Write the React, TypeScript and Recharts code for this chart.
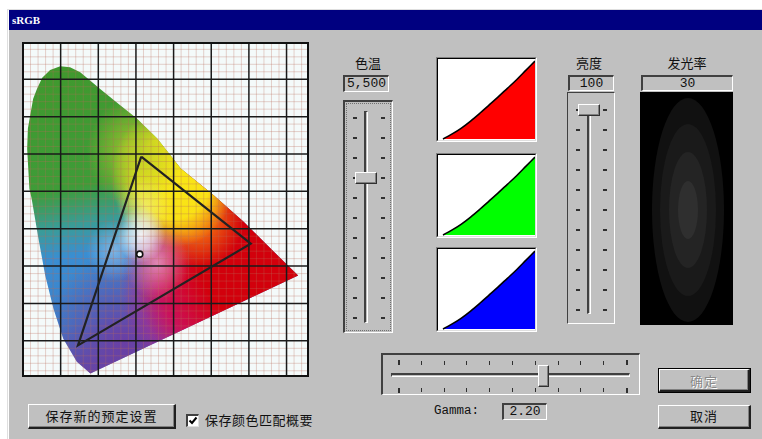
import React from "react";
import { ScatterChart, Scatter, XAxis, YAxis, ReferenceLine, AreaChart, Area } from "recharts";

// spectral locus outline (diagram units), clockwise from the violet end
const locusX = [0.179, 0.143, 0.107, 0.081, 0.059, 0.041, 0.023, 0.017, 0.011, 0.013, 0.019, 0.027, 0.037, 0.051, 0.072, 0.099, 0.125, 0.152, 0.205, 0.259, 0.303, 0.357, 0.419, 0.507, 0.587, 0.703, 0.731];
const locusY = [0.013, 0.044, 0.106, 0.186, 0.275, 0.374, 0.48, 0.507, 0.614, 0.668, 0.703, 0.748, 0.774, 0.804, 0.825, 0.835, 0.832, 0.819, 0.774, 0.73, 0.694, 0.641, 0.561, 0.489, 0.418, 0.302, 0.275];

// gamut triangle: green, red, blue, back to green
const gamutX = [0.314, 0.605, 0.146, 0.314];
const gamutY = [0.593, 0.36, 0.088, 0.593];
const whitePoint = [{ x: 0.31, y: 0.332 }];

const majorX = [0.1, 0.2, 0.3, 0.4, 0.5, 0.6, 0.7];
const majorY = [0.1, 0.2, 0.3, 0.4, 0.5, 0.6, 0.7, 0.8];
const minorStep = 0.02;

// gamma curve, same for R, G, B
const gammaIn = [0, 0.1, 0.2, 0.3, 0.4, 0.5, 0.6, 0.7, 0.8, 0.9, 1];
const gammaOut = [0, 0.065, 0.14, 0.23, 0.33, 0.435, 0.54, 0.65, 0.76, 0.88, 1];

const sliderTicks = [0, 1, 2, 3, 4, 5, 6, 7, 8, 9, 10];
const colorTempValue = "5,500";
const brightnessValue = "100";
const glowValue = "30";
const gammaValue = "2.20";

const locusData = locusX.map((x, i) => ({ x, y: locusY[i] }));
const gamutData = gamutX.map((x, i) => ({ x, y: gamutY[i] }));
const gammaData = gammaIn.map((v, i) => ({ i: v, o: gammaOut[i] }));

const range = (end: number) => {
  const out: number[] = [];
  for (let v = minorStep; v < end - 0.001; v += minorStep) {
    const r = Math.round(v * 100) / 100;
    if (Math.round(r * 100) % 10 !== 0) out.push(r);
  }
  return out;
};
const minorX = range(0.757);
const minorY = range(0.897);

const X_DOMAIN: [number, number] = [0, 0.757];
const Y_DOMAIN: [number, number] = [0.006, 0.897];

const CJK = '"Noto Sans CJK SC", "Noto Sans", sans-serif';
const MONO = '"Liberation Mono", "DejaVu Sans Mono", monospace';

const Nothing = () => <g />;

// radial colour patches laid over the base gradient: [id, cx, cy, r, colour, stops]
const patches: [string, number, number, number, string, number[][]][] = [
  ["ciePurple", 0.36, 0.9, 0.3, "#6a3ea4", [[0, 1], [1, 0]]],
  ["cieMagenta", 0.64, 0.72, 0.3, "#d8107e", [[0, 1], [0.5, 0.85], [1, 0]]],
  ["cieRed", 0.88, 0.6, 0.5, "#d2000c", [[0, 1], [0.5, 1], [1, 0]]],
  ["cieOrange", 0.63, 0.49, 0.17, "#f06410", [[0, 1], [0.4, 0.9], [1, 0]]],
  ["cieYellow", 0.54, 0.36, 0.23, "#fae816", [[0, 1], [0.6, 0.95], [1, 0]]],
  ["cieLime", 0.4, 0.28, 0.18, "#b4cc2a", [[0, 0.9], [1, 0]]],
  ["cieCream", 0.43, 0.46, 0.1, "#eef2a0", [[0, 0.55], [1, 0]]],
  ["cieSky", 0.32, 0.6, 0.1, "#a8cef0", [[0, 0.6], [1, 0]]],
  ["ciePink", 0.48, 0.64, 0.12, "#eaa0c8", [[0, 0.8], [1, 0]]],
  ["cieWhite", 0.42, 0.55, 0.09, "#ffffff", [[0, 0.9], [0.5, 0.6], [1, 0]]],
];

function LocusFill(props: any) {
  const pts = props.points || [];
  if (!pts.length) return null;
  const d = "M" + pts.map((p: any) => `${p.x},${p.y}`).join("L") + "Z";
  return (
    <g>
      <defs>
        <linearGradient id="cieBase" x1="0.2" y1="0" x2="0.35" y2="1">
          <stop offset="0" stopColor="#40992e" />
          <stop offset="0.38" stopColor="#3e9c38" />
          <stop offset="0.5" stopColor="#3a9c96" />
          <stop offset="0.6" stopColor="#3a8ed2" />
          <stop offset="0.82" stopColor="#3e7ec8" />
          <stop offset="1" stopColor="#6a40a0" />
        </linearGradient>
        {patches.map(([id, cx, cy, r, c, stops]) => (
          <radialGradient key={id} id={id} cx={cx} cy={cy} r={r}>
            {stops.map(([o, a], k) => (
              <stop key={k} offset={o} stopColor={c} stopOpacity={a} />
            ))}
          </radialGradient>
        ))}
      </defs>
      <path d={d} fill="url(#cieBase)" />
      {patches.map(([id]) => (
        <path key={id} d={d} fill={`url(#${id})`} stroke="none" />
      ))}
    </g>
  );
}

const WhiteDot = (p: any) => (
  <circle cx={p.cx} cy={p.cy} r={3} fill="#fff" stroke="#111" strokeWidth={1.6} />
);

function Chromaticity() {
  const W = 285;
  const H = 333;
  return (
    <>
      <div style={{ position: "absolute", left: 23, top: 43, width: W, height: H, background: "#f4fafa" }}>
        <ScatterChart width={W} height={H} margin={{ top: 0, right: 0, bottom: 0, left: 0 }}>
          <XAxis type="number" dataKey="x" domain={X_DOMAIN} hide />
          <YAxis type="number" dataKey="y" domain={Y_DOMAIN} hide />
          <Scatter data={locusData} line={LocusFill} shape={Nothing} isAnimationActive={false} />
        </ScatterChart>
      </div>
      <div style={{ position: "absolute", left: 23, top: 43, width: W, height: H }}>
        <ScatterChart width={W} height={H} margin={{ top: 0, right: 0, bottom: 0, left: 0 }}>
          <XAxis type="number" dataKey="x" domain={X_DOMAIN} hide />
          <YAxis type="number" dataKey="y" domain={Y_DOMAIN} hide />
          {minorX.map((v) => (
            <ReferenceLine key={"mx" + v} x={v} stroke="#b86a58" strokeOpacity={0.3} strokeWidth={1} />
          ))}
          {minorY.map((v) => (
            <ReferenceLine key={"my" + v} y={v} stroke="#b86a58" strokeOpacity={0.3} strokeWidth={1} />
          ))}
          {majorX.map((v) => (
            <ReferenceLine key={"MX" + v} x={v} stroke="#1a1a1a" strokeWidth={1.5} />
          ))}
          {majorY.map((v) => (
            <ReferenceLine key={"MY" + v} y={v} stroke="#1a1a1a" strokeWidth={1.5} />
          ))}
          <Scatter
            data={gamutData}
            line={{ stroke: "#222", strokeWidth: 2.2, strokeLinejoin: "miter" }}
            lineJointType="linear"
            shape={Nothing}
            isAnimationActive={false}
          />
          <Scatter data={whitePoint} shape={WhiteDot} isAnimationActive={false} />
        </ScatterChart>
      </div>
      <div
        style={{
          position: "absolute",
          left: 22,
          top: 42,
          width: W + 2,
          height: H + 2,
          boxSizing: "border-box",
          border: "2px solid #111",
        }}
      />
    </>
  );
}

function GammaBox({ top, color }: { top: number; color: string }) {
  return (
    <div
      style={{
        position: "absolute",
        left: 436,
        top,
        width: 101,
        height: 85,
        boxSizing: "border-box",
        borderStyle: "solid",
        borderWidth: 1,
        borderColor: "#808080 #fff #fff #808080",
      }}
    >
      <div
        style={{
          width: 99,
          height: 83,
          boxSizing: "border-box",
          borderStyle: "solid",
          borderWidth: 1,
          borderColor: "#000 #dfdfdf #dfdfdf #000",
          background: "#fff",
        }}
      >
        <AreaChart width={97} height={81} data={gammaData} margin={{ top: 2, right: 0, bottom: 1, left: 5 }}>
          <XAxis dataKey="i" type="number" domain={[0, 1]} hide />
          <YAxis type="number" domain={[0, 1]} hide />
          <Area
            type="monotone"
            dataKey="o"
            stroke="#000"
            strokeWidth={1.6}
            fill={color}
            fillOpacity={1}
            isAnimationActive={false}
          />
        </AreaChart>
      </div>
    </div>
  );
}

const sunken = (extra: React.CSSProperties): React.CSSProperties => ({
  position: "absolute",
  boxSizing: "border-box",
  borderStyle: "solid",
  borderWidth: "2px 1px 1px 2px",
  borderColor: "#404040 #fff #fff #404040",
  background: "#c0c0c0",
  ...extra,
});

function ValueBox({ left, top, width, height, text, align }: any) {
  return (
    <div
      style={sunken({
        left,
        top,
        width,
        height,
        fontFamily: MONO,
        fontSize: 13,
        lineHeight: `${height - 3}px`,
        textAlign: align || "center",
        color: "#111",
        paddingRight: align === "right" ? 3 : 0,
      })}
    >
      {text}
    </div>
  );
}

function Label({ cx, top, text }: { cx: number; top: number; text: string }) {
  return (
    <div
      style={{
        position: "absolute",
        left: cx - 40,
        top,
        width: 80,
        textAlign: "center",
        fontFamily: CJK,
        fontSize: 13,
        lineHeight: "18px",
        color: "#111",
      }}
    >
      {text}
    </div>
  );
}

const Thumb = ({ left, top, width, height }: any) => (
  <div
    style={{
      position: "absolute",
      left,
      top,
      width,
      height,
      boxSizing: "border-box",
      background: "#c4c4c4",
      borderStyle: "solid",
      borderWidth: 1,
      borderColor: "#fff #303030 #303030 #fff",
      boxShadow: "inset -1px -1px 0 #808080",
    }}
  />
);

function VSlider({ left, top, width, height, trackX, trackTop, trackBottom, tickTop, tickL, tickR, thumb, dotted, thin }: any) {
  return (
    <div
      style={{
        position: "absolute",
        left,
        top,
        width,
        height,
        boxSizing: "border-box",
        borderStyle: "solid",
        borderWidth: thin ? 1 : "2px 1px 1px 2px",
        borderColor: "#404040 #fff #fff #404040",
      }}
    >
      {dotted && (
        <div
          style={{
            position: "absolute",
            left: 1,
            top: 1,
            right: 1,
            bottom: 1,
            border: "1px dotted #707070",
          }}
        />
      )}
      <div
        style={{
          position: "absolute",
          left: trackX - 2,
          top: trackTop,
          width: 4,
          height: trackBottom - trackTop,
          boxSizing: "border-box",
          borderStyle: "solid",
          borderWidth: "1px 1px 1px 2px",
          borderColor: "#404040 #fff #fff #404040",
          background: "#c0c0c0",
        }}
      />
      {sliderTicks.map((t) => (
        <React.Fragment key={t}>
          <div style={{ position: "absolute", left: tickL, top: tickTop + t * 20, width: 4, height: 2, background: "#303030" }} />
          <div style={{ position: "absolute", left: tickR, top: tickTop + t * 20, width: 4, height: 2, background: "#303030" }} />
        </React.Fragment>
      ))}
      <Thumb left={trackX - 11} top={tickTop + thumb * 20 - 5} width={22} height={12} />
    </div>
  );
}

function HSlider() {
  const step = 22.8;
  const x0 = 15;
  const thumb = 6.35;
  return (
    <div
      style={{
        position: "absolute",
        left: 381,
        top: 353,
        width: 259,
        height: 42,
        boxSizing: "border-box",
        borderStyle: "solid",
        borderWidth: "2px 1px 1px 2px",
        borderColor: "#404040 #fff #fff #404040",
      }}
    >
      <div
        style={{
          position: "absolute",
          left: 8,
          top: 18,
          width: 239,
          height: 4,
          boxSizing: "border-box",
          borderStyle: "solid",
          borderWidth: "2px 1px 1px 1px",
          borderColor: "#404040 #fff #fff #404040",
        }}
      />
      {sliderTicks.map((t) => {
        const big = t === 0 || t === 10;
        return (
          <React.Fragment key={t}>
            <div style={{ position: "absolute", left: x0 + t * step, top: big ? 5 : 6, width: big ? 2 : 1, height: big ? 5 : 4, background: "#303030" }} />
            <div style={{ position: "absolute", left: x0 + t * step, top: 33, width: big ? 2 : 1, height: big ? 5 : 4, background: "#303030" }} />
          </React.Fragment>
        );
      })}
      <Thumb left={x0 + thumb * step - 5} top={10} width={11} height={22} />
    </div>
  );
}

function Button({ left, top, width, height, text, disabled, isDefault }: any) {
  return (
    <div
      style={{
        position: "absolute",
        left,
        top,
        width,
        height,
        boxSizing: "border-box",
        border: isDefault ? "1px solid #000" : "none",
      }}
    >
      <div
        style={{
          width: "100%",
          height: "100%",
          boxSizing: "border-box",
          borderStyle: "solid",
          borderWidth: "1px 2px 2px 1px",
          borderColor: "#fff #202020 #202020 #fff",
          boxShadow: "inset -1px -1px 0 #808080",
          background: "#c0c0c0",
          textAlign: "center",
          fontFamily: CJK,
          fontSize: 13,
          lineHeight: `${height - 4}px`,
          color: disabled ? "#8a8a8a" : "#111",
          textShadow: disabled ? "1px 1px 0 #fff" : "none",
          letterSpacing: 1,
        }}
      >
        {text}
      </div>
    </div>
  );
}

const glowRings = [
  { rx: 36, ry: 112, c: "#111111" },
  { rx: 28, ry: 86, c: "#1a1a1a" },
  { rx: 19, ry: 58, c: "#242424" },
  { rx: 10, ry: 29, c: "#2f2f2f" },
];

export default function App() {
  return (
    <div
      style={{
        position: "fixed",
        left: 0,
        top: 0,
        width: 762,
        height: 439,
        background: "#fff",
        overflow: "hidden",
        fontFamily: CJK,
      }}
    >
      {/* window */}
      <div
        style={{
          position: "absolute",
          left: 7,
          top: 9,
          width: 760,
          height: 440,
          boxSizing: "border-box",
          background: "#c0c0c0",
          borderStyle: "solid",
          borderWidth: "1px 0 0 1px",
          borderColor: "#dfdfdf",
          boxShadow: "inset 1px 1px 0 #fff",
        }}
      />
      <div
        style={{
          position: "absolute",
          left: 9,
          top: 10,
          width: 753,
          height: 20,
          background: "#000080",
          color: "#fff",
          fontFamily: '"Liberation Serif", "DejaVu Serif", serif',
          fontWeight: "bold",
          fontSize: 11,
          lineHeight: "20px",
          paddingLeft: 3,
          boxSizing: "border-box",
        }}
      >
        sRGB
      </div>

      <Chromaticity />

      {/* colour temperature */}
      <Label cx={368} top={54} text="色温" />
      <ValueBox left={343} top={75} width={46} height={17} text={colorTempValue} />
      <VSlider left={343} top={100} width={50} height={233} trackX={21} trackTop={9} trackBottom={221} tickTop={15} tickL={8} tickR={36} thumb={3} dotted />

      {/* gamma curves */}
      <GammaBox top={57} color="#ff0000" />
      <GammaBox top={153} color="#00ff00" />
      <GammaBox top={247} color="#0000ff" />

      {/* brightness */}
      <Label cx={589} top={54} text="亮度" />
      <ValueBox left={568} top={75} width={46} height={16} text={brightnessValue} />
      <VSlider left={567} top={92} width={48} height={232} trackX={21} trackTop={14} trackBottom={221} tickTop={16} tickL={8} tickR={35} thumb={0} thin />

      {/* glow */}
      <Label cx={687} top={54} text="发光率" />
      <ValueBox left={641} top={75} width={92} height={16} text={glowValue} />
      <div style={{ position: "absolute", left: 640, top: 92, width: 93, height: 233, background: "#000", overflow: "hidden" }}>
        {glowRings.map((r, i) => (
          <div
            key={i}
            style={{
              position: "absolute",
              left: 47.5 - r.rx,
              top: 118 - r.ry,
              width: r.rx * 2,
              height: r.ry * 2,
              borderRadius: "50%",
              background: r.c,
            }}
          />
        ))}
      </div>

      {/* gamma slider */}
      <HSlider />
      <div style={{ position: "absolute", left: 434, top: 402, fontFamily: MONO, fontSize: 12.5, lineHeight: "18px", color: "#111" }}>
        Gamma:
      </div>
      <ValueBox left={502} top={403} width={45} height={17} text={gammaValue} />

      {/* buttons */}
      <Button left={658} top={368} width={93} height={25} text="确定" disabled isDefault />
      <Button left={658} top={405} width={93} height={24} text="取消" />
      <Button left={28} top={404} width={148} height={25} text="保存新的预定设置" />

      <div
        style={{
          position: "absolute",
          left: 186,
          top: 414,
          width: 13,
          height: 13,
          boxSizing: "border-box",
          background: "#fff",
          borderStyle: "solid",
          borderWidth: "2px 1px 1px 2px",
          borderColor: "#404040 #dfdfdf #dfdfdf #404040",
        }}
      >
        <svg width={10} height={10} style={{ position: "absolute", left: 0, top: 0 }}>
          <path d="M1.5 4.5 L4 7 L8.5 1.5" fill="none" stroke="#000" strokeWidth={2} />
        </svg>
      </div>
      <div style={{ position: "absolute", left: 205, top: 411, fontFamily: CJK, fontSize: 13, lineHeight: "18px", color: "#111", letterSpacing: 0.5 }}>
        保存颜色匹配概要
      </div>
    </div>
  );
}
